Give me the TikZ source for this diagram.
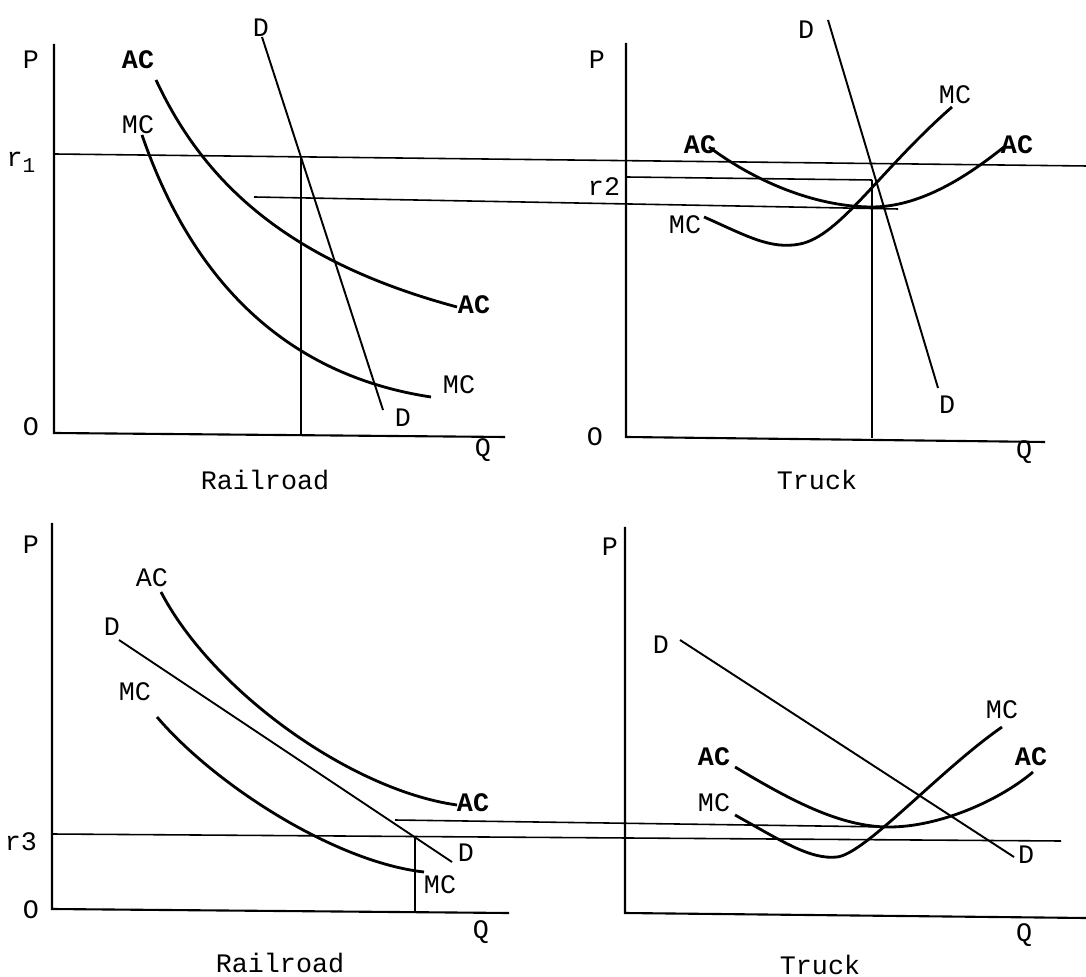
\documentclass[tikz,border=0pt]{standalone}
\usepackage{fontspec}
\setmonofont{Liberation Mono}
\usepackage{tikz}

\tikzset{
	lbl/.style={inner sep=0pt, font=\ttfamily\fontsize{7.6}{9}\selectfont},
	aclbl/.style={lbl, font=\ttfamily\bfseries\fontsize{7.6}{9}\selectfont},
	axis/.style={line width=0.6pt},
	rateline/.style={line width=0.45pt},
	demand/.style={line width=0.55pt},
	costcurve/.style={line width=0.8pt}
}

\begin{document}
\begin{tikzpicture}[x=0.01cm, y=-0.01cm]
	\useasboundingbox (0,0) rectangle (1086,977);

	\draw[axis] (54,44) -- (54,433) -- (505,437);
	\draw[rateline] (54,154) -- (1086,166);
	\draw[rateline] (254,197) -- (898,209);
	\draw[rateline] (301,157) -- (301,435);
	\draw[demand] (262,37) -- (383,410);
	\draw[costcurve] (156,80) .. controls (205,185) and (290,262) .. (457,307);
	\draw[costcurve] (142,135) .. controls (192,280) and (285,375) .. (431,397);
	\node[lbl] (rrP) at (31,60) {P};
	\node[lbl] (rrO) at (31,427) {O};
	\node[lbl] (rrQ) at (483,450) {Q};
	\node[lbl] (rone) at (21,162) {r\raisebox{-0.4ex}{\fontsize{6}{6}\selectfont 1}};
	\node[lbl] (rrDtop) at (261,28) {D};
	\node[lbl] (rrDbot) at (403,418) {D};
	\node[aclbl] (rrACtop) at (138,60) {AC};
	\node[aclbl] (rrACbot) at (474,305) {AC};
	\node[lbl] (rrMCtop) at (138,125) {MC};
	\node[lbl] (rrMCbot) at (459,385) {MC};
	\node[lbl] (rrname) at (265,480) {Railroad};

	\draw[axis] (626,43) -- (626,437) -- (1045,442);
	\draw[rateline] (626,177) -- (872,180);
	\draw[rateline] (872,180) -- (872,438);
	\draw[demand] (828,20) -- (938,388);
	\draw[costcurve] (704,217) .. controls (745,235) and (770,250) .. (800,244)
		.. controls (840,236) and (880,170) .. (952,107);
	\draw[costcurve] (709,147) .. controls (760,185) and (820,207) .. (872,207)
		.. controls (925,207) and (975,170) .. (1004,147);
	\node[lbl] (trP) at (597,60) {P};
	\node[lbl] (trO) at (595,437) {O};
	\node[lbl] (trQ) at (1024,452) {Q};
	\node[lbl] (rtwo) at (604,187) {r2};
	\node[lbl] (trDtop) at (806,30) {D};
	\node[lbl] (trDbot) at (947,405) {D};
	\node[aclbl] (trACleft) at (700,145) {AC};
	\node[aclbl] (trACright) at (1017,145) {AC};
	\node[lbl] (trMCleft) at (685,225) {MC};
	\node[lbl] (trMCright) at (955,95) {MC};
	\node[lbl] (trname) at (817,480) {Truck};

	\draw[axis] (52,523) -- (52,909) -- (509,913);
	\draw[rateline] (52,834) -- (1061,841);
	\draw[rateline] (395,820) -- (889,827);
	\draw[rateline] (415,838) -- (415,911);
	\draw[demand] (119,640) -- (452,862);
	\draw[costcurve] (161,592) .. controls (212,690) and (350,790) .. (457,805);
	\draw[costcurve] (157,717) .. controls (215,785) and (335,862) .. (424,872);
	\node[lbl] (rbP) at (31,545) {P};
	\node[lbl] (rbO) at (31,910) {O};
	\node[lbl] (rbQ) at (481,932) {Q};
	\node[lbl] (rthree) at (21,842) {r3};
	\node[lbl] (rbDtop) at (112,627) {D};
	\node[lbl] (rbDbot) at (466,853) {D};
	\node[lbl] (rbACtop) at (152,578) {AC};
	\node[aclbl] (rbACbot) at (473,803) {AC};
	\node[lbl] (rbMCtop) at (135,692) {MC};
	\node[lbl] (rbMCbot) at (440,885) {MC};
	\node[lbl] (rbname) at (280,963) {Railroad};

	\draw[axis] (625,527) -- (625,913) -- (1086,918);
	\draw[demand] (680,640) -- (1014,857);
	\draw[costcurve] (735,767) .. controls (790,800) and (840,827) .. (889,827)
		.. controls (940,827) and (1000,800) .. (1033,772);
	\draw[costcurve] (735,815) .. controls (780,840) and (810,860) .. (837,857)
		.. controls (865,854) and (940,770) .. (1002,727);
	\node[lbl] (tbP) at (610,547) {P};
	\node[lbl] (tbQ) at (1024,935) {Q};
	\node[lbl] (tbDtop) at (661,645) {D};
	\node[lbl] (tbDbot) at (1026,855) {D};
	\node[aclbl] (tbACleft) at (714,757) {AC};
	\node[aclbl] (tbACright) at (1031,757) {AC};
	\node[lbl] (tbMCleft) at (714,803) {MC};
	\node[lbl] (tbMCright) at (1002,710) {MC};
	\node[lbl] (tbname) at (820,965) {Truck};
\end{tikzpicture}
\end{document}
